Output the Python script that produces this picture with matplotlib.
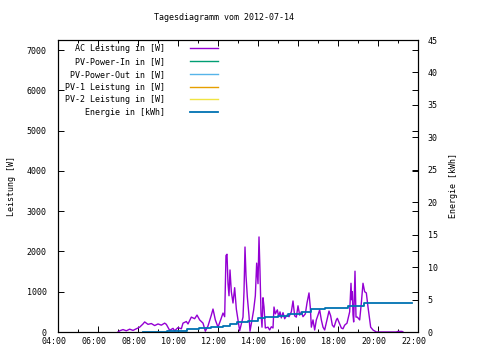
import matplotlib
matplotlib.use("Agg")
import matplotlib.pyplot as plt
import matplotlib.dates as mdates
import matplotlib.transforms as mtransforms
import pandas as pd

day = "2012-07-14"

# AC Leistung in W
ac_times = ["07:00", "07:05", "07:15", "07:25", "07:35", "07:45", "07:55", "08:05", "08:15", "08:20",
            "08:30", "08:40", "08:50", "09:00", "09:10", "09:20", "09:25", "09:35", "09:45", "09:50",
            "10:00", "10:10", "10:15", "10:25", "10:30", "10:40", "10:50", "10:57", "11:05", "11:15",
            "11:22", "11:30", "11:40", "11:45", "11:52", "12:00", "12:08", "12:15", "12:20", "12:24",
            "12:27", "12:30", "12:33", "12:36", "12:40", "12:45", "12:50", "12:55", "13:00", "13:05",
            "13:10", "13:15", "13:18", "13:21", "13:24", "13:28", "13:33", "13:36", "13:42", "13:47",
            "13:52", "13:56", "14:00", "14:03", "14:06", "14:09", "14:12", "14:15", "14:18", "14:22",
            "14:30", "14:35", "14:40", "14:45", "14:48", "14:52", "14:58", "15:02", "15:06", "15:10",
            "15:15", "15:20", "15:27", "15:33", "15:40", "15:45", "15:50", "15:55", "16:00", "16:05",
            "16:10", "16:15", "16:22", "16:27", "16:33", "16:37", "16:40", "16:45", "16:50", "16:55",
            "17:00", "17:05", "17:10", "17:15", "17:20", "17:27", "17:33", "17:38", "17:43", "17:48",
            "17:55", "17:58", "18:05", "18:10", "18:15", "18:20", "18:27", "18:35", "18:39", "18:41",
            "18:43", "18:45", "18:47", "18:51", "18:54", "18:58", "19:05", "19:10", "19:15", "19:20",
            "19:25", "19:30", "19:38", "19:45", "19:55", "20:00", "20:55", "21:00", "21:12", "21:15"]
ac_power = [0, 30, 60, 30, 70, 40, 80, 120, 200, 250,
            190, 210, 160, 200, 170, 220, 190, 40, 90, 30,
            110, 80, 220, 260, 200, 370, 330, 420, 300, 220,
            20, 150, 420, 570, 300, 120, 300, 470, 380, 1900,
            1930, 1200, 900, 1540, 1000, 720, 1100, 570, 300, 30,
            200, 370, 1000, 2110, 1400, 870, 400, 20, 300, 550,
            900, 1710, 1200, 2360, 1500, 470, 120, 850, 620, 100,
            120, 50, 130, 100, 620, 450, 550, 380, 500, 350,
            480, 330, 420, 380, 500, 770, 400, 370, 650, 420,
            500, 380, 450, 720, 970, 600, 120, 300, 50, 300,
            420, 550, 300, 120, 50, 300, 520, 400, 170, 120,
            300, 340, 200, 100, 80, 170, 220, 500, 1210, 800,
            1000, 430, 250, 1510, 370, 370, 300, 720, 1210, 1000,
            970, 620, 120, 50, 0, 0, 0, 15, 15, 0]

# Energie in kWh
e_times = ["08:15", "09:27", "10:27", "11:03", "11:40", "12:15", "12:36", "12:57", "13:30", "14:00",
           "14:20", "15:00", "15:30", "16:12", "16:40", "17:20", "18:30", "19:18", "21:42"]
e_kwh = [0.05, 0.2, 0.45, 0.65, 0.75, 0.92, 1.2, 1.5, 1.7, 2.1,
         2.25, 2.45, 2.75, 3.1, 3.5, 3.75, 3.95, 4.4, 4.4]

# series without data on this day
pv_in = []
pv_out = []
pv1 = []
pv2 = []

ac_t = pd.to_datetime([day + " " + t for t in ac_times])
e_t = pd.to_datetime([day + " " + t for t in e_times])

plt.rcParams["font.family"] = "DejaVu Sans Mono"
plt.rcParams["font.size"] = 6

fig = plt.figure(figsize=(4.8, 3.6), dpi=100)
ax = fig.add_axes([58 / 480, 28 / 360, 360 / 480, 292 / 360])
ax2 = ax.twinx()

l1, = ax.plot(ac_t, ac_power, color="#9400d3", lw=1.0, label="AC Leistung in [W]")
l2, = ax.plot(pv_in, pv_in, color="#009e73", lw=1.0, label="PV-Power-In in [W]")
l3, = ax.plot(pv_out, pv_out, color="#56b4e9", lw=1.0, label="PV-Power-Out in [W]")
l4, = ax.plot(pv1, pv1, color="#e69f00", lw=1.0, label="PV-1 Leistung in [W]")
l5, = ax.plot(pv2, pv2, color="#f0e442", lw=1.0, label="PV-2 Leistung in [W]")
l6, = ax2.plot(e_t, e_kwh, color="#0072b2", lw=1.3, drawstyle="steps-post", label="Energie in [kWh]")

ax.set_xlim(pd.Timestamp(day + " 04:00"), pd.Timestamp(day + " 22:00"))
ax.set_ylim(0, 7250)
ax2.set_ylim(0, 45)
ax.set_yticks(range(0, 7001, 1000))
ax2.set_yticks(range(0, 46, 5))

ax.xaxis.set_major_locator(mdates.HourLocator(interval=2))
ax.xaxis.set_minor_locator(mdates.HourLocator())
ax.xaxis.set_major_formatter(mdates.DateFormatter("%H:%M"))

ax.tick_params(axis="both", which="major", direction="in", length=4.5, width=0.7,
               top=True, right=True, labelsize=6)
ax.tick_params(axis="x", which="minor", direction="in", length=2.5, width=0.7, top=True)
ax.tick_params(axis="y", pad=8)
ax.tick_params(axis="x", pad=3.5)
ax2.tick_params(axis="y", direction="in", length=4.5, width=0.7, labelsize=6, pad=7)

# gnuplot puts the time labels a little left of their ticks
shift = mtransforms.ScaledTranslation(-4 / 100, 0, fig.dpi_scale_trans)
for lab in ax.get_xticklabels():
    lab.set_transform(lab.get_transform() + shift)

for s in list(ax.spines.values()) + list(ax2.spines.values()):
    s.set_linewidth(0.8)

ax.set_ylabel("Leistung [W]", fontsize=6, labelpad=8)
ax2.set_ylabel("Energie [kWh]", fontsize=6, labelpad=8)
fig.text(224 / 480, 1 - 17 / 360, "Tagesdiagramm vom 2012-07-14", ha="center", va="center", fontsize=6)

ax.legend(handles=[l1, l2, l3, l4, l5, l6], loc="upper right", bbox_to_anchor=(160 / 360, 0.985),
          markerfirst=False, frameon=False, fontsize=6, handlelength=3.4, handletextpad=3.0,
          labelspacing=0.45, borderpad=0, borderaxespad=0)

fig.savefig("out.png", dpi=100)
